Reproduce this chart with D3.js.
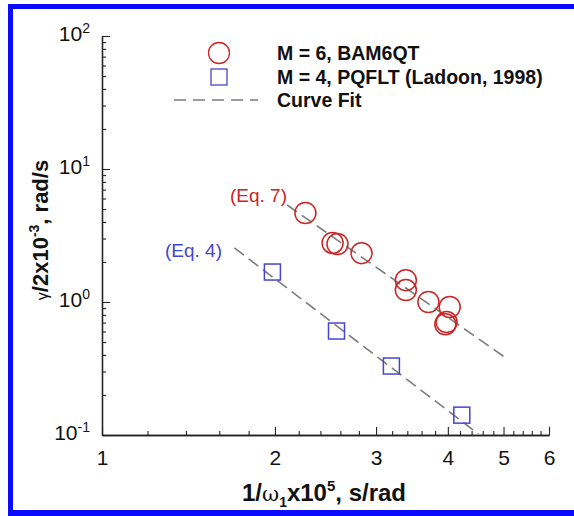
<!DOCTYPE html>
<html>
<head>
<meta charset="utf-8">
<script src="https://cdn.jsdelivr.net/npm/d3@7"></script>
<style>
  body { margin: 0; background: #fff; }
  text { font-family: "Liberation Sans", Arial, Helvetica, sans-serif; }
</style>
</head>
<body>
<script>
// data
var bam6qtX = [2.26, 2.52, 2.57, 2.83, 3.38, 3.38, 3.70, 4.03, 3.98, 3.96];
var bam6qtY = [4.67, 2.78, 2.73, 2.33, 1.46, 1.23, 1.00, 0.917, 0.707, 0.68];
var pqfltX = [1.98, 2.56, 3.19, 4.23];
var pqfltY = [1.68, 0.605, 0.33, 0.141];
var fit7X = [2.10, 5.02];
var fit7Y = [5.36, 0.386];
var fit4X = [1.70, 4.52];
var fit4Y = [2.55, 0.102];
var xTickValues = [1, 2, 3, 4, 5, 6];
var yTickExponents = [-1, 0, 1, 2];
var legendLabels = ['M = 6, BAM6QT', 'M = 4, PQFLT (Ladoon, 1998)', 'Curve Fit'];

var W = 574, H = 516;
var RED = '#cc2424', BLUE = '#4646cc', GREY = '#7c7c7c';

var svg = d3.select('body').append('svg')
    .attr('width', W)
    .attr('height', H);

svg.append('rect').attr('width', W).attr('height', H).attr('fill', '#fff');

// blue frame (no right side visible in the picture)
var frame = svg.append('g').attr('fill', '#0a0aff');
frame.append('rect').attr('x', 8).attr('y', 4).attr('width', W - 8).attr('height', 5);
frame.append('rect').attr('x', 8).attr('y', 4).attr('width', 5).attr('height', H - 4);
frame.append('rect').attr('x', 8).attr('y', 510).attr('width', W - 8).attr('height', 6);

var x = d3.scaleLog().domain([1, 6]).range([102, 549]);
var y = d3.scaleLog().domain([0.1, 100]).range([435, 36]);

// minor ticks
var xMinor = d3.range(1.2, 5.9, 0.2).filter(function (v) {
    return Math.abs(v - Math.round(v)) > 1e-6;
});
var yMinor = [];
yTickExponents.slice(0, 3).forEach(function (e) {
    for (var k = 2; k <= 9; k++) yMinor.push(k * Math.pow(10, e));
});

var axisStyle = function (g) {
    g.select('.domain').attr('stroke', '#222').attr('stroke-width', 1.3);
    g.selectAll('.tick line').attr('stroke', '#222').attr('stroke-width', 1.1);
};

svg.append('g')
    .attr('transform', 'translate(0,435)')
    .call(d3.axisBottom(x).tickValues(xMinor).tickSize(-4).tickFormat('').tickSizeOuter(0))
    .call(axisStyle);

var xAxis = svg.append('g')
    .attr('transform', 'translate(0,435)')
    .call(d3.axisBottom(x).tickValues(xTickValues).tickSize(-8).tickSizeOuter(0)
        .tickPadding(15).tickFormat(d3.format('d')))
    .call(axisStyle);
xAxis.selectAll('text').attr('fill', '#111').style('font-size', '21px');

svg.append('g')
    .attr('transform', 'translate(102,0)')
    .call(d3.axisLeft(y).tickValues(yMinor).tickSize(-4).tickFormat('').tickSizeOuter(0))
    .call(axisStyle);

var yAxis = svg.append('g')
    .attr('transform', 'translate(102,0)')
    .call(d3.axisLeft(y).tickValues(yTickExponents.map(function (e) { return Math.pow(10, e); }))
        .tickSize(-8).tickSizeOuter(0).tickPadding(12).tickFormat(''))
    .call(axisStyle);

yAxis.selectAll('.tick text')
    .attr('fill', '#111')
    .style('font-size', '21px')
    .attr('dy', '0.2em')
    .each(function (d) {
        var t = d3.select(this);
        t.text('10');
        t.append('tspan').attr('dy', '-0.55em').style('font-size', '14px')
            .text(String(Math.round(Math.log10(d))));
    });

// axis titles
var xTitle = svg.append('text')
    .attr('x', 324).attr('y', 501)
    .attr('text-anchor', 'middle')
    .attr('fill', '#111')
    .style('font-size', '24px').style('font-weight', 'bold');
xTitle.append('tspan').text('1/');
xTitle.append('tspan').style('font-weight', 'normal').style('font-family', 'DejaVu Serif, serif').style('font-size', '21px').text('ω');
xTitle.append('tspan').attr('dy', '6').style('font-size', '14px').text('1');
xTitle.append('tspan').attr('dy', '-6').text('x10');
xTitle.append('tspan').attr('dy', '-10').style('font-size', '15px').text('5');
xTitle.append('tspan').attr('dy', '10').text(', s/rad');

var yTitle = svg.append('text')
    .attr('transform', 'translate(48,230) rotate(-90)')
    .attr('text-anchor', 'middle')
    .attr('fill', '#111')
    .style('font-size', '22px').style('font-weight', 'bold');
yTitle.append('tspan').style('font-weight', 'normal').style('font-size', '16px').text('γ');
yTitle.append('tspan').text('/2x10');
yTitle.append('tspan').attr('dy', '-9').style('font-size', '14px').text('-3');
yTitle.append('tspan').attr('dy', '9').text(', rad/s');

// curve fits
var line = d3.line()
    .x(function (d) { return x(d[0]); })
    .y(function (d) { return y(d[1]); });

[[fit7X, fit7Y], [fit4X, fit4Y]].forEach(function (f) {
    svg.append('path')
        .datum(d3.zip(f[0], f[1]))
        .attr('d', line)
        .attr('fill', 'none')
        .attr('stroke', GREY)
        .attr('stroke-width', 1.6)
        .attr('stroke-dasharray', '12,6');
});

// symbols
svg.append('g').selectAll('circle')
    .data(d3.zip(bam6qtX, bam6qtY))
    .join('circle')
    .attr('cx', function (d) { return x(d[0]); })
    .attr('cy', function (d) { return y(d[1]); })
    .attr('r', 10.5)
    .attr('fill', 'none')
    .attr('stroke', RED)
    .attr('stroke-width', 1.5);

var sq = 16;
svg.append('g').selectAll('rect')
    .data(d3.zip(pqfltX, pqfltY))
    .join('rect')
    .attr('x', function (d) { return x(d[0]) - sq / 2; })
    .attr('y', function (d) { return y(d[1]) - sq / 2; })
    .attr('width', sq).attr('height', sq)
    .attr('fill', 'none')
    .attr('stroke', BLUE)
    .attr('stroke-width', 1.5);

// equation labels
svg.append('text').attr('x', 287).attr('y', 202).attr('text-anchor', 'end')
    .attr('fill', RED).style('font-size', '19px').text('(Eq. 7)');
svg.append('text').attr('x', 222).attr('y', 257).attr('text-anchor', 'end')
    .attr('fill', BLUE).style('font-size', '19px').text('(Eq. 4)');

// legend
var legend = svg.append('g');
var rowY = [53, 77, 100];
legend.append('circle').attr('cx', 219).attr('cy', rowY[0]).attr('r', 10.5)
    .attr('fill', 'none').attr('stroke', RED).attr('stroke-width', 1.3);
legend.append('rect').attr('x', 219 - 8).attr('y', rowY[1] - 8).attr('width', 16).attr('height', 16)
    .attr('fill', 'none').attr('stroke', BLUE).attr('stroke-width', 1.3);
legend.append('line').attr('x1', 174).attr('x2', 258).attr('y1', rowY[2]).attr('y2', rowY[2])
    .attr('stroke', GREY).attr('stroke-width', 1.6).attr('stroke-dasharray', '12,7');
legend.selectAll('text.lg')
    .data(legendLabels)
    .join('text')
    .attr('class', 'lg')
    .attr('x', 277)
    .attr('y', function (d, i) { return rowY[i] + 7; })
    .attr('fill', '#111')
    .style('font-size', '19.5px').style('font-weight', 'bold')
    .text(function (d) { return d; });
</script>
</body>
</html>
